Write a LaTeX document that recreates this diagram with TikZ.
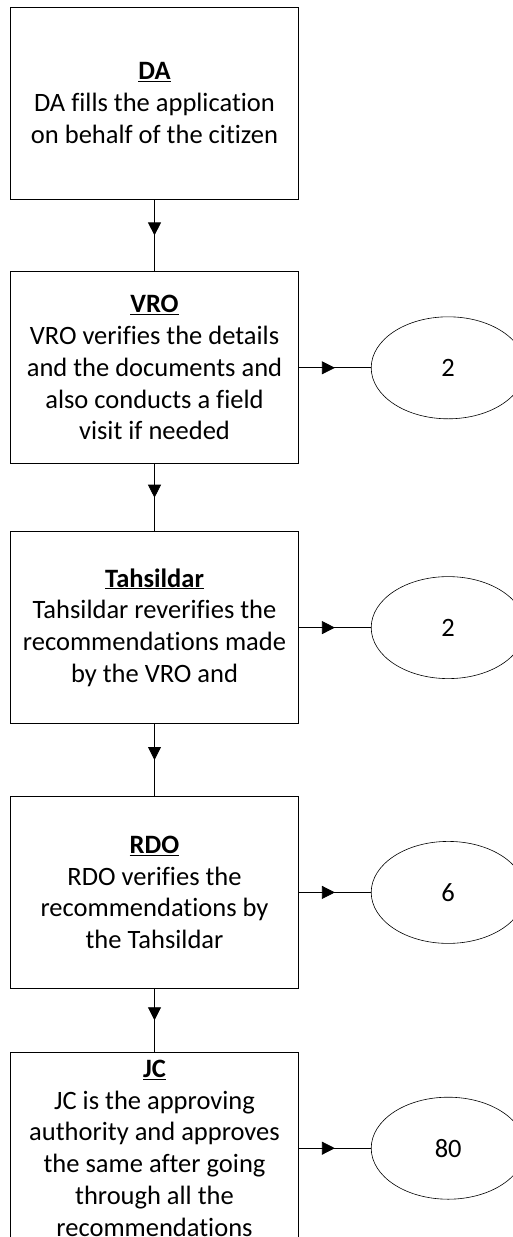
\documentclass[tikz,border=0pt]{standalone}
\usepackage{fontspec}
\setmainfont[Ligatures=NoCommon]{Carlito}
\usetikzlibrary{shapes.geometric, arrows.meta, positioning, decorations.markings}

\begin{document}
\begin{tikzpicture}[node distance=72pt,
    stepbox/.style={rectangle, draw, line width=0.8pt, minimum width=288pt, minimum height=192pt, align=center, font=\fontsize{26.5}{31.8}\selectfont},
    count/.style={ellipse, draw, line width=0.6pt, minimum width=154pt, minimum height=102pt, font=\fontsize{26.5}{31.8}\selectfont},
    flow/.style={line width=0.8pt, postaction={decorate}, decoration={markings, mark=at position 0.5 with {\arrow{Triangle[length=13pt, width=13pt]}}}}]

    \useasboundingbox (0,0) rectangle (513pt,-1237pt);

    % Approval chain
    \node[stepbox] (da) at (154.5pt,-103pt) {\underline{\textbf{DA}}\\ DA fills the application\\ on behalf of the citizen};

    \node[stepbox, below=72pt of da] (vro) {\underline{\textbf{VRO}}\\ VRO verifies the details\\ and the documents and\\ also conducts a field\\ visit if needed};

    \node[stepbox, below=67pt of vro] (tahsildar) {\underline{\textbf{Tahsildar}}\\ Tahsildar reverifies the\\ recommendations made\\ by the VRO and};

    \node[stepbox, below=72pt of tahsildar] (rdo) {\underline{\textbf{RDO}}\\ RDO verifies the\\ recommendations by\\ the Tahsildar};

    \node[stepbox, below=63pt of rdo] (jc) {\underline{\textbf{JC}}\\ JC is the approving\\ authority and approves\\ the same after going\\ through all the\\ recommendations};

    % Days taken at each stage
    \node[count, right=72pt of vro] (vro_days) {2};
    \node[count, right=72pt of tahsildar] (tahsildar_days) {2};
    \node[count, right=72pt of rdo] (rdo_days) {6};
    \node[count, right=72pt of jc] (jc_days) {80};

    % Flow
    \draw[flow] (da.south) -- (vro.north);
    \draw[flow] (vro.south) -- (tahsildar.north);
    \draw[flow] (tahsildar.south) -- (rdo.north);
    \draw[flow] (rdo.south) -- (jc.north);

    \draw[flow] (vro.east) -- (vro_days.west);
    \draw[flow] (tahsildar.east) -- (tahsildar_days.west);
    \draw[flow] (rdo.east) -- (rdo_days.west);
    \draw[flow] (jc.east) -- (jc_days.west);
\end{tikzpicture}
\end{document}
